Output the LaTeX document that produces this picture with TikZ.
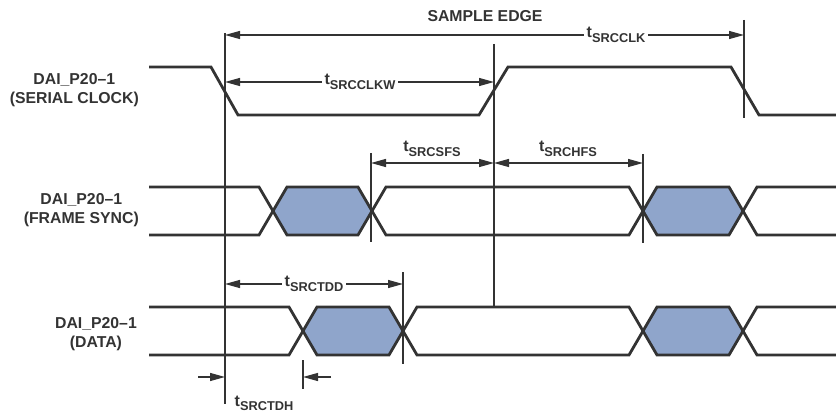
\documentclass[tikz,border=0pt]{standalone}
\usepackage{fontspec}
\setmainfont{Liberation Sans}
\usetikzlibrary{arrows.meta}
\definecolor{ink}{RGB}{51,51,51}
\definecolor{hexfill}{RGB}{143,165,203}
\newcommand\tlab[1]{{\fontsize{16}{16}\selectfont t}\raisebox{-4.5pt}{\fontsize{12.8}{13}\selectfont #1}}
\tikzset{
  sig/.style={draw=ink, line width=2.8pt, line join=miter},
  hexa/.style={fill=hexfill, draw=none},
  vline/.style={draw=ink, line width=1.4pt},
  dim/.style={draw=ink, line width=1.2pt, {Triangle[length=15pt,width=8pt]}-{Triangle[length=15pt,width=8pt]}},
  onearrow/.style={draw=ink, line width=1.2pt, -{Triangle[length=15pt,width=8pt]}},
  brk/.style={fill=white, inner sep=3pt, text=ink, font=\bfseries},
  lab/.style={inner sep=1pt, text=ink, font=\bfseries},
  siglab/.style={align=center, text=ink, inner sep=0pt, font=\fontsize{15.8}{19.5}\selectfont\bfseries},
}
\begin{document}
\begin{tikzpicture}[x=1pt,y=-1pt]
\useasboundingbox (0,0) rectangle (836,417);

% ---------- fills of data windows ----------
\fill[hexa] (273,211) -- (287,187) -- (358,187) -- (372,211) -- (358,235) -- (287,235) -- cycle;
\fill[hexa] (643,211) -- (657,187) -- (729,187) -- (743,211) -- (729,235) -- (657,235) -- cycle;
\fill[hexa] (303,331) -- (317,307) -- (389,307) -- (403,331) -- (389,355) -- (317,355) -- cycle;
\fill[hexa] (643,331) -- (657,307) -- (729,307) -- (743,331) -- (729,355) -- (657,355) -- cycle;

% ---------- serial clock ----------
\draw[sig] (149,67) -- (211,67) -- (238,115) -- (479,115) -- (508,67) -- (731,67) -- (759,115) -- (836,115);

% ---------- frame sync ----------
\draw[sig] (149,187) -- (259,187) -- (287,235) -- (358,235) -- (386,187) -- (629,187) -- (657,235) -- (729,235) -- (757,187) -- (836,187);
\draw[sig] (149,235) -- (259,235) -- (287,187) -- (358,187) -- (386,235) -- (629,235) -- (657,187) -- (729,187) -- (757,235) -- (836,235);

% ---------- data ----------
\draw[sig] (149,307) -- (289,307) -- (317,355) -- (389,355) -- (417,307) -- (629,307) -- (657,355) -- (729,355) -- (757,307) -- (836,307);
\draw[sig] (149,355) -- (289,355) -- (317,307) -- (389,307) -- (417,355) -- (629,355) -- (657,307) -- (729,307) -- (757,355) -- (836,355);

% ---------- reference lines ----------
\coordinate (vA1) at (225,33);  \coordinate (vA2) at (225,404);
\coordinate (vB1) at (494,44);  \coordinate (vB2) at (494,307);
\coordinate (vC1) at (744,20);  \coordinate (vC2) at (744,118);
\coordinate (vD1) at (371,153); \coordinate (vD2) at (371,242);
\coordinate (vE1) at (643,154); \coordinate (vE2) at (643,243);
\coordinate (vF1) at (403,272); \coordinate (vF2) at (403,364);
\coordinate (vG1) at (303,360); \coordinate (vG2) at (303,389);
\draw[vline] (vA1) -- (vA2);
\draw[vline] (vB1) -- (vB2);
\draw[vline] (vC1) -- (vC2);
\draw[vline] (vD1) -- (vD2);
\draw[vline] (vE1) -- (vE2);
\draw[vline] (vF1) -- (vF2);
\draw[vline] (vG1) -- (vG2);

% ---------- dimension arrows ----------
\coordinate (a1l) at (225,35);  \coordinate (a1r) at (744,35);
\draw[dim] (a1l) -- (a1r);
\node[brk] (lclk) at (616,35) {\tlab{SRCCLK}};
\node[lab] (sample) at (485,16) {\fontsize{15.8}{16}\selectfont SAMPLE EDGE};

\coordinate (a2l) at (225,82);  \coordinate (a2r) at (494,82);
\draw[dim] (a2l) -- (a2r);
\node[brk] (lclkw) at (360,82) {\tlab{SRCCLKW}};

\coordinate (a3l) at (371,163); \coordinate (a3r) at (494,163);
\draw[dim] (a3l) -- (a3r);
\node[lab, anchor=base] (lsfs) at (432,152) {\tlab{SRCSFS}};

\coordinate (a4l) at (494,163); \coordinate (a4r) at (643,163);
\draw[dim] (a4l) -- (a4r);
\node[lab, anchor=base] (lhfs) at (568,152) {\tlab{SRCHFS}};

\coordinate (a5l) at (225,284); \coordinate (a5r) at (403,284);
\draw[dim] (a5l) -- (a5r);
\node[brk] (ltdd) at (314,284) {\tlab{SRCTDD}};

\coordinate (a6s) at (198,377); \coordinate (a6e) at (225,377);
\coordinate (a7s) at (331,377); \coordinate (a7e) at (303,377);
\draw[onearrow] (a6s) -- (a6e);
\draw[onearrow] (a7s) -- (a7e);
\node[lab, anchor=base] (ltdh) at (264,406) {\tlab{SRCTDH}};

% ---------- signal names ----------
\node[siglab, anchor=east] (nclk) at (139,90) {DAI\_P20–1\\(SERIAL CLOCK)};
\node[siglab, anchor=east] (nfs) at (139,210) {DAI\_P20–1\\(FRAME SYNC)};
\node[siglab, anchor=east] (ndat) at (137,334) {DAI\_P20–1\\(DATA)};
\end{tikzpicture}
\end{document}
